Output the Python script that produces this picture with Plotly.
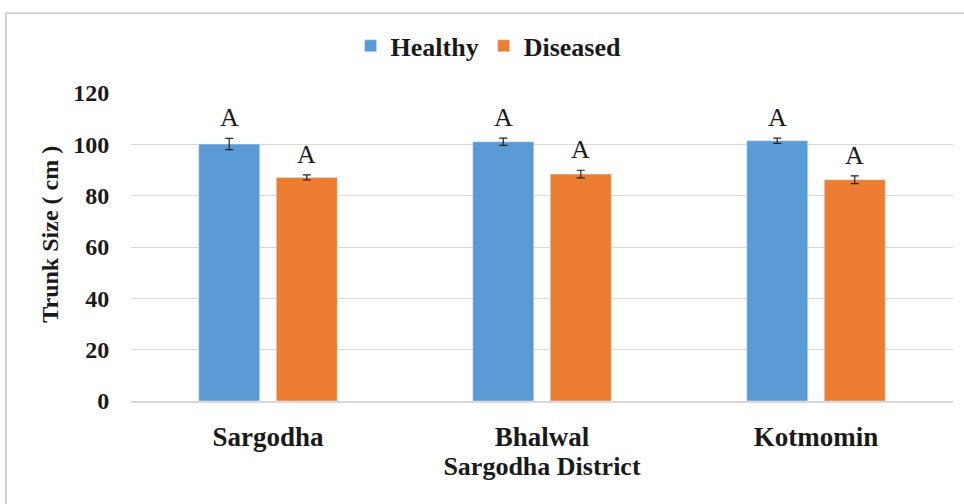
import plotly.graph_objects as go

# Trunk size by location within Sargodha District
locations = ["Sargodha", "Bhalwal", "Kotmomin"]
healthy = [100.1, 101.0, 101.4]
healthy_err = [2.2, 1.4, 1.0]
diseased = [87.1, 88.4, 86.2]
diseased_err = [1.0, 1.5, 1.5]
healthy_letters = ["A", "A", "A"]
diseased_letters = ["A", "A", "A"]
y_ticks = [0, 20, 40, 60, 80, 100, 120]

SERIF = "Liberation Serif"
BLUE = "#5B9BD5"
ORANGE = "#ED7D31"
GRID = "#D9D9D9"
INK = "#1a1a1a"


def bold(size):
    return dict(family=SERIF, size=size, color=INK, weight="bold")


fig = go.Figure()
fig.add_trace(go.Bar(
    name="Healthy", x=locations, y=healthy, marker_color=BLUE,
    error_y=dict(type="data", array=healthy_err, color="#222222", thickness=1.2, width=4),
    offsetgroup="h",
))
fig.add_trace(go.Bar(
    name="Diseased", x=locations, y=diseased, marker_color=ORANGE,
    error_y=dict(type="data", array=diseased_err, color="#222222", thickness=1.2, width=4),
    offsetgroup="d",
))

# Significance letters above each error bar
slot = 0.283  # half of the group width in category units
for i, loc in enumerate(locations):
    for val, err, txt, off in ((healthy[i], healthy_err[i], healthy_letters[i], -slot / 2),
                               (diseased[i], diseased_err[i], diseased_letters[i], slot / 2)):
        fig.add_annotation(
            x=i + off, y=val + err, xref="x", yref="y", text=txt, showarrow=False,
            yanchor="bottom", yshift=4,
            font=dict(family=SERIF, size=26, color=INK),
        )

# Y-axis title
fig.add_annotation(
    x=-0.0985, y=0.54, xref="paper", yref="paper", text="Trunk Size ( cm )",
    textangle=-90, showarrow=False, xanchor="center", yanchor="middle",
    font=bold(24),
)

# Light frame around the chart area
fig.add_shape(
    type="rect", xref="paper", yref="paper",
    x0=(6 - 131) / 822, x1=1.2, y0=-0.5, y1=(401 - 12) / 309,
    line=dict(color="#D0D0D0", width=2), fillcolor="rgba(0,0,0,0)", layer="below",
)

fig.update_layout(
    width=964, height=504,
    margin=dict(l=131, r=11, t=92.5, b=103),
    paper_bgcolor="white", plot_bgcolor="white",
    barmode="group", bargap=0.434, bargroupgap=0.213,
    showlegend=True,
    legend=dict(
        orientation="h", x=0.435, y=1.153, xanchor="center", yanchor="middle",
        font=bold(26), itemwidth=30, traceorder="normal",
    ),
    font=dict(family=SERIF, color=INK),
)

fig.update_xaxes(
    tickfont=bold(27),
    ticks="outside", ticklen=11, tickcolor="rgba(0,0,0,0)",
    showline=True, linecolor=GRID, linewidth=1.5,
    title=dict(text="Sargodha District", standoff=6, font=bold(26)),
)
fig.update_yaxes(
    range=[0, 120], tickvals=y_ticks,
    tickfont=bold(24),
    ticks="outside", ticklen=16, tickcolor="rgba(0,0,0,0)",
    showgrid=True, gridcolor=GRID, gridwidth=1,
    zeroline=False, showline=False,
)

fig.write_html("out.html")
